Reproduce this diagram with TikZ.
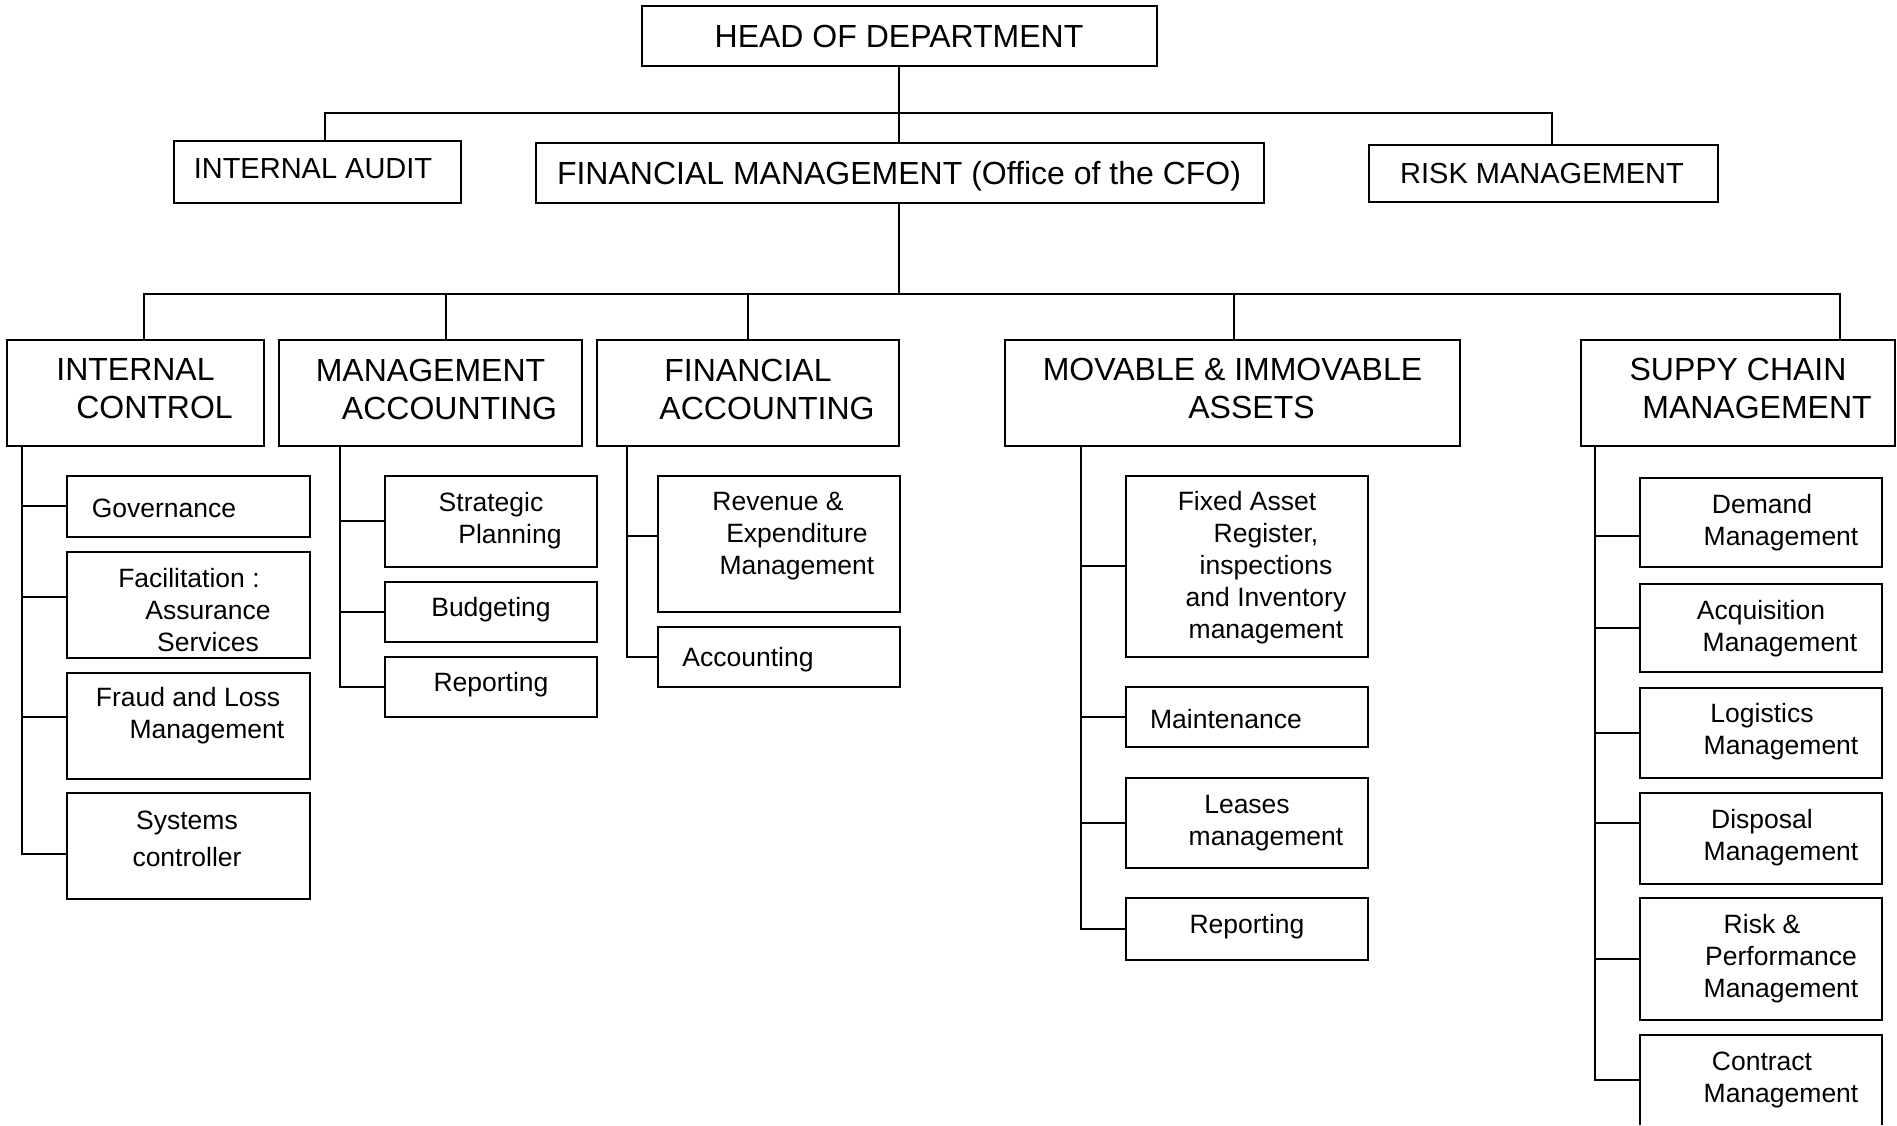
\documentclass[tikz,border=0pt]{standalone}
\usepackage{fontspec}
\setmainfont{Liberation Sans}
\usetikzlibrary{calc}
\newcommand{\lsh}{\hspace*{38pt}}
\begin{document}
\begin{tikzpicture}[x=1pt,y=-1pt,
  box/.style={draw, line width=2pt, inner sep=0pt, outer sep=0pt},
  bx/.style 2 args={box, minimum width=#1pt, minimum height=#2pt},
  bline/.style={line width=2pt},
  conn/.style={line width=2pt},
  bigt/.style={font=\fontsize{32}{38}\selectfont, align=center, inner sep=0pt},
  midt/.style={font=\fontsize{29}{35}\selectfont, align=center, inner sep=0pt},
  smt/.style={font=\fontsize{26.5}{32}\selectfont, align=center, inner sep=0pt}]
\useasboundingbox (0,0) rectangle (1897,1125);
\fill[white] (0,0) rectangle (1897,1125);

% ---- top levels
\node[bx={515}{60}] (head) at (899.5,36) {};
\node[bx={287}{62}] (ia) at (317.5,172) {};
\node[bx={728}{60}] (fm) at (900,173) {};
\node[bx={349}{57}] (rm) at (1543.5,173.5) {};

\node[bigt] (headt) at (899,36) {HEAD OF DEPARTMENT};
\node[midt] (iat) at (313,168.5) {INTERNAL AUDIT};
\node[bigt] (fmt) at (899,176) {FINANCIAL MANAGEMENT (Office of the CFO)};
\node[midt] (rmt) at (1542,174) {RISK MANAGEMENT};

% ---- second level
\node[bx={257}{106}] (ic) at (135.5,393) {};
\node[bx={303}{106}] (ma) at (430.5,393) {};
\node[bx={302}{106}] (fa) at (748,393) {};
\node[bx={455}{106}] (mov) at (1232.5,393) {};
\node[bx={314}{106}] (sc) at (1738,393) {};

\node[bigt] (ict) at (135.5,389) {INTERNAL\\\lsh CONTROL};
\node[bigt] (mat) at (430.5,389) {MANAGEMENT\\\lsh ACCOUNTING};
\node[bigt] (fat) at (748,389) {FINANCIAL\\\lsh ACCOUNTING};
\node[bigt] (movt) at (1232.5,388) {MOVABLE \& IMMOVABLE\\\lsh ASSETS};
\node[bigt] (sct) at (1738,388) {SUPPY CHAIN\\\lsh MANAGEMENT};

% ---- internal control children
\node[bx={243}{61}] (gov) at (188.5,506.5) {};
\node[bx={243}{106}] (fac) at (188.5,605) {};
\node[bx={243}{106}] (fraud) at (188.5,726) {};
\node[bx={243}{106}] (sys) at (188.5,846) {};
\node[smt] (govt) at (164,508) {Governance};
\node[smt] (fact) at (189,610) {Facilitation :\\\lsh Assurance\\\lsh Services};
\node[smt] (fraudt) at (188,716) {Fraud and Loss\\\lsh Management};
\node[smt] (syst) at (187,839) {Systems\\[5pt]controller};

% ---- management accounting children
\node[bx={212}{91}] (strat) at (491,521.5) {};
\node[bx={212}{60}] (budg) at (491,612) {};
\node[bx={212}{60}] (repa) at (491,687) {};
\node[smt] (stratt) at (491,521) {Strategic\\\lsh Planning};
\node[smt] (budgt) at (491,610) {Budgeting};
\node[smt] (repat) at (491,685) {Reporting};

% ---- financial accounting children
\node[bx={242}{136}] (rev) at (779,544) {};
\node[bx={242}{60}] (acc) at (779,657) {};
\node[smt] (revt) at (778,536) {Revenue \&\\\lsh Expenditure\\\lsh Management};
\node[smt] (acct) at (748,660) {Accounting};

% ---- movable & immovable assets children
\node[bx={242}{181}] (fixed) at (1247,566.5) {};
\node[bx={242}{60}] (maint) at (1247,717) {};
\node[bx={242}{90}] (lease) at (1247,823) {};
\node[bx={242}{62}] (repb) at (1247,929) {};
\node[smt] (fixedt) at (1247,568) {Fixed Asset\\\lsh Register,\\\lsh inspections\\\lsh and Inventory\\\lsh management};
\node[smt] (maintt) at (1226,719) {Maintenance};
\node[smt] (leaset) at (1247,823) {Leases\\\lsh management};
\node[smt] (repbt) at (1247,927) {Reporting};

% ---- supply chain children
\node[bx={242}{89}] (dem) at (1761,522.5) {};
\node[bx={242}{88}] (acq) at (1761,628) {};
\node[bx={242}{90}] (logi) at (1761,733) {};
\node[bx={242}{91}] (disp) at (1761,838.5) {};
\node[bx={242}{122}] (risk) at (1761,959) {};
\node[inner sep=0pt, outer sep=0pt, minimum width=242pt, minimum height=90pt] (con) at (1761,1080) {};
\draw[bline] (con.south west) |- (con.north east) -- (con.south east);
\node[smt] (demt) at (1762,523) {Demand\\\lsh Management};
\node[smt] (acqt) at (1761,629) {Acquisition\\\lsh Management};
\node[smt] (logit) at (1762,732) {Logistics\\\lsh Management};
\node[smt] (dispt) at (1762,838) {Disposal\\\lsh Management};
\node[smt] (riskt) at (1762,959) {Risk \&\\\lsh Performance\\\lsh Management};
\node[smt] (cont) at (1762,1080) {Contract\\\lsh Management};

% ---- connectors, top
\coordinate (bar1) at (899,113);
\coordinate (bar2) at (899,294);
\draw[conn] (head.south -| bar1) -- (fm.north -| bar1);
\draw[conn] ($(ia.north)+(7.5,0)$) |- (bar1) -| ($(rm.north)+(8.5,0)$);
\draw[conn] (fm.south -| bar2) -- (bar2);
\draw[conn] ($(ic.north)+(8.5,0)$) |- (bar2) -| ($(sc.north)+(102,0)$);
\draw[conn] ($(ma.north)+(15.5,0)$) |- (bar2);
\draw[conn] (fa.north) |- (bar2);
\draw[conn] ($(mov.north)+(1.5,0)$) |- (bar2);

% ---- spines
\coordinate (icsp) at ($(ic.south west)+(15,0)$);
\coordinate (masp) at ($(ma.south west)+(61,0)$);
\coordinate (fasp) at ($(fa.south west)+(30,0)$);
\coordinate (movsp) at ($(mov.south west)+(76,0)$);
\coordinate (scsp) at ($(sc.south west)+(14,0)$);

\draw[conn] (icsp) |- ($(gov.west)+(0,-0.5)$);
\draw[conn] (icsp) |- ($(fac.west)+(0,-8)$);
\draw[conn] (icsp) |- ($(fraud.west)+(0,-9)$);
\draw[conn] (icsp) |- ($(sys.west)+(0,8)$);

\draw[conn] (masp) |- ($(strat.west)+(0,-0.5)$);
\draw[conn] (masp) |- (budg.west);
\draw[conn] (masp) |- (repa.west);

\draw[conn] (fasp) |- ($(rev.west)+(0,-8)$);
\draw[conn] (fasp) |- (acc.west);

\draw[conn] (movsp) |- ($(fixed.west)+(0,-0.5)$);
\draw[conn] (movsp) |- (maint.west);
\draw[conn] (movsp) |- (lease.west);
\draw[conn] (movsp) |- (repb.west);

\draw[conn] (scsp) |- ($(dem.west)+(0,13.5)$);
\draw[conn] (scsp) |- (acq.west);
\draw[conn] (scsp) |- (logi.west);
\draw[conn] (scsp) |- ($(disp.west)+(0,-15.5)$);
\draw[conn] (scsp) |- (risk.west);
\draw[conn] (scsp) |- (con.west);
\end{tikzpicture}
\end{document}
